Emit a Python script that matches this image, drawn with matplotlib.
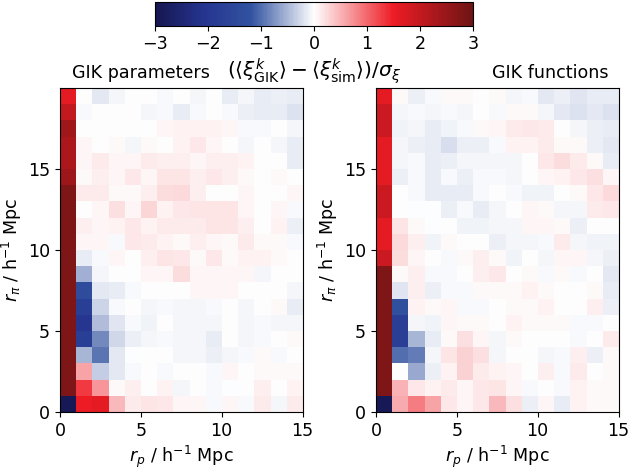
import numpy as np
import matplotlib
matplotlib.use("Agg")
import matplotlib.pyplot as plt
from matplotlib.colors import LinearSegmentedColormap

# rows listed from top (r_pi = 19-20) down to bottom (r_pi = 0-1), columns r_p = 0..15
gik_params = [
    [1.6, 0.0, -0.15, -0.05, 0.0, 0.0, -0.03, 0.0, -0.05, 0.0, -0.12, -0.06, -0.12, -0.1, -0.12],
    [2.0, -0.03, 0.0, 0.0, 0.0, -0.06, -0.03, -0.12, -0.03, 0.0, -0.04, -0.1, -0.12, -0.12, -0.2],
    [2.4, 0.0, 0.0, 0.0, 0.0, 0.0, 0.05, 0.08, 0.08, 0.08, 0.05, -0.03, -0.03, 0.0, -0.06],
    [2.25, 0.05, 0.0, 0.04, -0.06, 0.04, 0.0, 0.08, 0.15, 0.06, 0.0, -0.07, 0.0, -0.06, -0.12],
    [2.25, 0.06, 0.12, 0.05, 0.07, 0.12, 0.1, 0.1, 0.05, 0.1, 0.1, 0.08, 0.0, 0.0, -0.12],
    [2.45, 0.04, 0.1, 0.05, 0.15, 0.07, 0.18, 0.18, 0.1, 0.15, 0.1, 0.03, 0.0, 0.03, 0.0],
    [2.8, 0.12, 0.12, 0.03, 0.04, 0.1, 0.22, 0.25, 0.1, 0.0, 0.0, 0.05, 0.02, 0.02, 0.05],
    [2.8, 0.0, 0.05, 0.2, 0.05, 0.28, 0.08, 0.15, 0.18, 0.18, 0.18, 0.05, 0.02, 0.05, -0.03],
    [2.8, 0.1, 0.05, 0.08, 0.15, 0.08, 0.12, 0.12, 0.12, 0.18, 0.18, 0.1, 0.0, 0.08, -0.1],
    [2.8, 0.05, 0.05, -0.03, 0.15, 0.12, 0.08, 0.03, 0.1, 0.05, 0.04, 0.12, 0.04, 0.04, -0.03],
    [2.8, -0.12, -0.03, 0.05, 0.0, 0.1, 0.18, 0.15, 0.03, 0.15, 0.03, 0.08, 0.08, 0.03, 0.0],
    [2.8, -0.55, -0.05, 0.0, 0.0, 0.05, 0.07, 0.22, 0.05, 0.05, 0.05, 0.05, -0.05, 0.0, 0.0],
    [2.8, -1.4, -0.15, -0.12, -0.03, 0.0, 0.0, 0.0, 0.05, 0.05, 0.05, 0.0, 0.0, 0.0, -0.05],
    [2.8, -1.75, -0.3, -0.04, 0.0, -0.05, -0.03, -0.07, -0.05, -0.03, 0.0, -0.07, 0.0, 0.03, -0.12],
    [2.8, -2.0, -0.45, -0.18, -0.04, -0.08, 0.0, -0.05, -0.05, -0.05, 0.0, -0.06, -0.04, -0.05, -0.05],
    [2.8, -1.75, -0.8, -0.28, -0.1, -0.05, -0.03, -0.05, -0.05, -0.12, 0.0, -0.06, -0.03, 0.0, 0.03],
    [2.8, -0.5, -0.95, -0.15, -0.02, 0.0, 0.02, -0.05, -0.05, -0.1, -0.06, -0.03, 0.03, -0.04, 0.0],
    [2.8, 0.6, -0.35, -0.15, -0.04, 0.0, -0.04, 0.0, 0.0, -0.04, 0.07, 0.0, 0.03, 0.03, 0.03],
    [2.8, 1.3, 0.7, 0.04, 0.1, 0.0, 0.08, -0.05, 0.0, -0.03, -0.02, 0.0, 0.1, 0.0, 0.08],
    [-2.9, 1.5, 1.6, 0.45, 0.12, 0.18, 0.15, 0.05, 0.05, -0.03, 0.05, -0.04, 0.12, -0.05, 0.12],
]

gik_funcs = [
    [1.6, 0.03, -0.1, -0.04, 0.03, 0.04, 0.0, 0.03, -0.05, -0.03, -0.15, -0.1, -0.18, -0.12, -0.12],
    [1.9, -0.06, -0.03, -0.05, -0.03, -0.05, 0.0, -0.04, 0.03, 0.03, -0.05, -0.15, -0.2, -0.15, -0.2],
    [1.9, -0.08, -0.05, -0.12, -0.08, -0.04, 0.03, 0.06, 0.12, 0.15, 0.12, 0.0, -0.06, -0.1, -0.12],
    [1.6, -0.05, -0.1, -0.12, -0.22, -0.1, -0.1, -0.03, 0.08, 0.08, 0.12, 0.04, 0.04, -0.1, -0.15],
    [1.6, -0.06, -0.03, -0.12, -0.1, -0.06, -0.06, -0.06, -0.06, 0.0, 0.15, 0.22, 0.12, 0.04, -0.12],
    [1.6, -0.1, -0.04, -0.12, -0.04, -0.1, -0.03, -0.03, -0.05, 0.0, 0.05, 0.08, 0.15, 0.2, 0.06],
    [1.9, 0.0, -0.03, -0.12, -0.14, -0.14, -0.03, 0.0, -0.04, -0.08, -0.08, 0.0, 0.04, 0.15, 0.25],
    [1.9, 0.0, -0.02, -0.02, -0.1, -0.04, -0.14, -0.05, 0.0, 0.07, 0.04, -0.06, -0.06, 0.12, 0.15],
    [1.6, 0.18, 0.03, -0.02, 0.0, -0.08, -0.08, -0.07, -0.05, 0.07, 0.07, 0.03, -0.1, 0.0, 0.0],
    [1.6, 0.25, 0.1, -0.08, 0.04, 0.0, 0.0, -0.1, -0.07, -0.05, -0.03, 0.12, -0.05, -0.08, -0.08],
    [1.9, 0.22, 0.05, 0.0, -0.03, 0.03, 0.1, 0.04, -0.08, 0.0, -0.05, 0.06, 0.05, -0.07, -0.1],
    [2.8, 0.04, 0.1, -0.04, -0.03, 0.0, 0.1, 0.15, 0.0, 0.03, -0.04, 0.03, -0.03, 0.0, -0.15],
    [2.8, -0.18, 0.1, -0.1, -0.03, -0.04, 0.03, 0.04, 0.04, 0.08, 0.03, 0.02, 0.0, 0.03, -0.12],
    [2.8, -1.25, 0.08, 0.03, 0.07, -0.03, -0.03, 0.0, 0.04, 0.03, 0.08, 0.02, 0.0, 0.1, -0.1],
    [2.8, -1.8, -0.05, -0.08, 0.06, 0.03, 0.03, 0.0, 0.08, 0.03, 0.03, 0.03, -0.03, -0.03, 0.0],
    [2.8, -1.8, -0.5, -0.12, 0.03, 0.2, 0.06, -0.05, 0.03, 0.0, 0.02, 0.02, -0.03, 0.0, 0.12],
    [2.8, -1.0, -0.9, -0.05, 0.18, 0.3, 0.2, -0.07, 0.0, 0.0, -0.06, -0.03, 0.1, -0.1, 0.04],
    [2.8, 0.0, -0.6, -0.1, 0.08, 0.3, 0.12, 0.08, 0.06, 0.0, 0.1, -0.04, 0.12, 0.02, 0.04],
    [2.8, 0.5, 0.15, 0.08, 0.12, 0.07, 0.15, 0.18, 0.06, -0.04, 0.0, -0.04, 0.08, 0.03, 0.03],
    [-2.9, 0.55, 0.85, 0.6, 0.15, 0.06, 0.15, 0.45, 0.2, -0.1, 0.06, -0.12, 0.08, 0.03, 0.04],
]

titles = ["GIK parameters", "GIK functions"]
ticks = [0, 5, 10, 15]
cbar_ticks = [-3, -2, -1, 0, 1, 2, 3]

cmap = LinearSegmentedColormap.from_list("gik", [
    (0.0, "#161650"), (0.15, "#25348f"), (0.3, "#3152a0"),
    (0.5, "#ffffff"), (0.75, "#ee1c25"), (1.0, "#6e1414")])

plt.rcParams['font.size'] = 12.6

W, H = 630, 471
fig = plt.figure(figsize=(W / 100, H / 100), dpi=100)

def px_axes(x0, y0, x1, y1):
    return fig.add_axes([x0 / W, 1 - y1 / H, (x1 - x0) / W, (y1 - y0) / H])

ax_l = px_axes(60, 88, 302.5, 412)
ax_r = px_axes(376, 88, 618.5, 412)
cax = px_axes(155, 2, 473, 25.5)

for ax, data, title in zip([ax_l, ax_r], [gik_params, gik_funcs], titles):
    im = ax.imshow(np.array(data), cmap=cmap, vmin=-3, vmax=3, origin='upper',
                   extent=[0, 15, 0, 20], aspect='auto', interpolation='nearest')
    ax.set_xticks(ticks)
    ax.set_yticks(ticks)
    ax.set_xlabel(r"$r_p$ / h$^{-1}$ Mpc", labelpad=3)
    ax.set_ylabel(r"$r_\pi$ / h$^{-1}$ Mpc", labelpad=3)

ax_l.text(0.05, 1.02, titles[0], transform=ax_l.transAxes, ha='left', va='bottom')
ax_r.text(0.96, 1.02, titles[1], transform=ax_r.transAxes, ha='right', va='bottom')

cb = fig.colorbar(im, cax=cax, orientation='horizontal', ticks=cbar_ticks)
cb.set_label(r"$(\langle\xi^k_{\rm GIK}\rangle - \langle\xi^k_{\rm sim}\rangle)/\sigma_\xi$",
             fontsize=14.5, labelpad=2)

fig.savefig("out.png", dpi=100)
